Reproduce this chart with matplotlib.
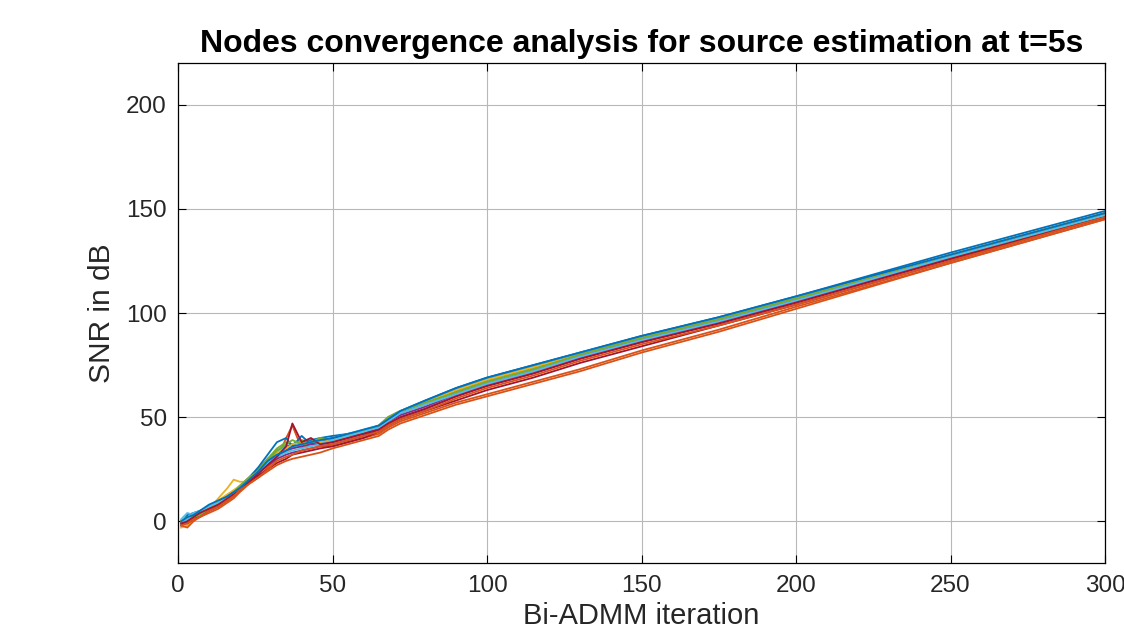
import matplotlib.pyplot as plt
import numpy as np

plt.rcParams['font.family'] = ['Liberation Sans', 'DejaVu Sans']

iters = [1, 3, 5, 7, 10, 13, 16, 18, 20, 23, 26, 29, 32, 35, 37, 40, 43, 46, 50,
         55, 60, 65, 68, 72, 80, 90, 100, 115, 130, 150, 175, 200, 250, 300]

# SNR (dB) per node
node01 = [-1, 3, 4, 5, 7, 9, 12, 14, 17, 21, 25, 30, 34, 36, 37, 38, 39, 40, 41, 42, 43, 46, 50, 53, 58, 64, 69, 75, 81, 89, 98, 108, 129, 149]
node02 = [0, -1, 1, 2, 5, 7, 10, 12, 15, 19, 22, 26, 30, 40, 46, 35, 37, 36, 36, 38, 40, 42, 45, 48, 52, 57, 61, 67, 73, 82, 92, 103, 124, 145]
node03 = [-3, -2, 1, 3, 6, 11, 16, 20, 19, 19, 22, 27, 31, 33, 35, 36, 37, 38, 39, 41, 43, 45, 49, 52, 56, 62, 67, 73, 80, 88, 97, 107, 127, 147]
node04 = [-1, 0, 2, 4, 7, 9, 11, 13, 15, 19, 23, 27, 30, 32, 33, 34, 35, 36, 37, 39, 41, 44, 47, 50, 54, 60, 65, 71, 78, 86, 95, 105, 126, 146]
node05 = [0, 1, 3, 4, 6, 8, 11, 14, 17, 21, 25, 30, 35, 38, 37, 39, 38, 37, 39, 41, 43, 45, 49, 52, 56, 62, 67, 73, 80, 87, 96, 106, 127, 147]
node06 = [1, 4, 3, 2, 5, 8, 11, 13, 16, 20, 23, 28, 33, 36, 35, 37, 38, 39, 40, 42, 44, 46, 50, 53, 57, 63, 68, 74, 81, 88, 97, 107, 128, 148]
node07 = [-1, -1, 1, 3, 5, 7, 10, 12, 15, 19, 22, 25, 28, 30, 32, 33, 34, 35, 36, 38, 40, 43, 46, 49, 53, 58, 63, 69, 76, 84, 94, 104, 125, 146]
node08 = [-2, 0, 3, 4, 7, 9, 12, 14, 16, 21, 26, 32, 38, 40, 36, 41, 37, 38, 40, 41, 42, 45, 49, 52, 57, 63, 68, 74, 80, 88, 97, 107, 128, 148]
node09 = [-2, -3, 0, 2, 4, 6, 9, 11, 14, 18, 21, 24, 27, 29, 30, 31, 32, 33, 35, 37, 39, 41, 44, 47, 51, 56, 60, 66, 72, 81, 91, 102, 124, 145]
node10 = [0, 1, 2, 4, 7, 10, 13, 15, 17, 21, 24, 29, 33, 35, 37, 38, 36, 38, 39, 41, 43, 46, 50, 53, 57, 63, 68, 74, 80, 88, 97, 107, 128, 148]
node11 = [-1, 0, 2, 3, 6, 8, 12, 14, 16, 20, 24, 28, 31, 34, 35, 36, 37, 37, 38, 40, 42, 45, 48, 51, 55, 61, 66, 72, 79, 87, 96, 106, 127, 147]
node12 = [0, 2, 2, 3, 6, 9, 12, 14, 17, 21, 24, 29, 34, 37, 39, 37, 38, 40, 39, 41, 43, 46, 50, 53, 57, 62, 67, 73, 80, 88, 97, 107, 127, 147]
node13 = [-1, 1, 4, 5, 7, 9, 11, 13, 16, 20, 24, 28, 31, 33, 34, 35, 36, 37, 39, 41, 43, 45, 48, 52, 56, 61, 66, 72, 79, 87, 96, 106, 127, 147]
node14 = [-1, 0, 2, 4, 6, 8, 11, 13, 15, 19, 23, 27, 31, 36, 47, 38, 40, 37, 38, 40, 42, 44, 47, 50, 54, 60, 65, 71, 78, 86, 95, 105, 126, 146]
node15 = [0, 2, 3, 5, 8, 10, 12, 14, 16, 20, 24, 29, 32, 34, 36, 37, 38, 39, 40, 42, 44, 46, 49, 53, 58, 64, 69, 75, 81, 89, 98, 108, 128, 148]
node16 = [-2, -1, 1, 2, 5, 7, 10, 12, 15, 18, 21, 25, 29, 31, 32, 34, 35, 36, 37, 39, 41, 43, 46, 49, 53, 59, 64, 70, 77, 85, 94, 104, 125, 146]

nodes = [node01, node02, node03, node04, node05, node06, node07, node08,
         node09, node10, node11, node12, node13, node14, node15, node16]

# matlab default color order
colors = ['#0072BD', '#D95319', '#EDB120', '#7E2F8E', '#77AC30', '#4DBEEE', '#A2142F']

fig = plt.figure(figsize=(11.24, 6.37), dpi=100)
ax = fig.add_axes([0.1584, 0.1162, 0.8247, 0.7848])

for i, vals in enumerate(nodes):
    ax.plot(iters, vals, color=colors[i % len(colors)], lw=1.3)

ax.set_xlim(0, 300)
ax.set_ylim(-20, 220)
ax.set_xticks(np.arange(0, 301, 50))
ax.set_yticks(np.arange(0, 201, 50))
ax.grid(True, color='#b8b8b8', lw=0.8)
ax.set_axisbelow(True)
ax.tick_params(direction='in', top=True, right=True, labelsize=17.5,
               length=6, width=0.8, labelcolor='#262626')
ax.tick_params(axis='x', pad=9)
ax.tick_params(axis='y', pad=8)
for s in ax.spines.values():
    s.set_linewidth(0.9)

ax.set_title("Nodes convergence analysis for source estimation at t=5s",
             fontsize=23, fontweight='bold', pad=8)
ax.set_xlabel("Bi-ADMM iteration", fontsize=21, labelpad=3, color='#262626')
ax.set_ylabel("SNR in dB", fontsize=21.5, labelpad=7, color='#262626')

fig.savefig("out.png", dpi=100)
